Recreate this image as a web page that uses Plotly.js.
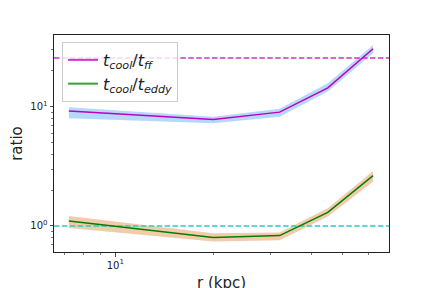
<!DOCTYPE html>
<html>
<head>
<meta charset="utf-8">
<script src="https://cdn.plot.ly/plotly-3.0.1.min.js"></script>
<style>html,body{margin:0;padding:0;background:#fff}#chart{width:432px;height:288px}</style>
</head>
<body>
<div id="chart"></div>
<script>
// radii (kpc)
const radius = [7.2, 20, 32, 45, 62];
// t_cool / t_ff : median and band
const ffMid   = [9.2, 7.8, 9.0, 14.4, 30.6];
const ffUpper = [9.9, 8.25, 9.6, 15.7, 32.9];
const ffLower = [8.0, 7.26, 8.25, 13.4, 28.0];
// t_cool / t_eddy : median and band
const edMid   = [1.10, 0.80, 0.83, 1.30, 2.64];
const edUpper = [1.21, 0.87, 0.88, 1.41, 2.89];
const edLower = [0.96, 0.74, 0.76, 1.20, 2.35];
// reference levels
const ffLevel = 25.6;
const edLevel = 1.0;
// tick labels
const yTickVals = [1, 10];
const yTickText = ['10<sup>0</sup>', '10<sup>1</sup>'];
const xTickVals = [10];
const xTickText = ['10<sup>1</sup>'];
const yMinor = [0.6, 0.7, 0.8, 0.9, 2, 3, 4, 5, 6, 7, 8, 9, 20, 30, 40];
const xMinor = [7, 8, 9, 20, 30, 40, 50, 60];

const xRange = [Math.log10(6.48), Math.log10(69.4)];
const yRange = [Math.log10(0.605), Math.log10(39.9)];

const traces = [
  {x: radius, y: ffLower, mode: 'lines', line: {width: 0}, showlegend: false, hoverinfo: 'skip'},
  {x: radius, y: ffUpper, mode: 'lines', line: {width: 0}, fill: 'tonexty', fillcolor: '#b5d9fb', showlegend: false, hoverinfo: 'skip'},
  {x: radius, y: edLower, mode: 'lines', line: {width: 0}, showlegend: false, hoverinfo: 'skip'},
  {x: radius, y: edUpper, mode: 'lines', line: {width: 0}, fill: 'tonexty', fillcolor: '#f2cbad', showlegend: false, hoverinfo: 'skip'},
  {x: [xRange[0], xRange[1]].map(v => Math.pow(10, v)), y: [ffLevel, ffLevel], mode: 'lines', line: {color: '#cc33cc', width: 1.5, dash: '5.5px,2.4px'}, showlegend: false},
  {x: [xRange[0], xRange[1]].map(v => Math.pow(10, v)), y: [edLevel, edLevel], mode: 'lines', line: {color: '#33c9c9', width: 1.5, dash: '5.5px,2.4px'}, showlegend: false},
  {x: radius, y: ffMid, mode: 'lines', line: {color: '#bf00bf', width: 1.5}, showlegend: false},
  {x: radius, y: edMid, mode: 'lines', line: {color: '#008000', width: 1.5}, showlegend: false},
  {x: [null], y: [null], mode: 'lines', line: {color: '#cc33cc', width: 2}, name: '<i>t</i><sub><i>cool</i></sub>/<i>t</i><sub><i>ff</i></sub>'},
  {x: [null], y: [null], mode: 'lines', line: {color: '#3a9f3a', width: 2}, name: '<i>t</i><sub><i>cool</i></sub>/<i>t</i><sub><i>eddy</i></sub>'}
];

const axisCommon = {
  type: 'log', showgrid: false, zeroline: false,
  showline: true, linecolor: '#222', linewidth: 1, mirror: true,
  ticks: 'outside', ticklen: 3.5, tickwidth: 0.8, tickcolor: '#222',
  tickmode: 'array', tickfont: {size: 10, color: '#222'}
};

const layout = {
  width: 432, height: 288,
  margin: {l: 54, r: 43, t: 35, b: 36},
  paper_bgcolor: '#fff', plot_bgcolor: '#fff',
  font: {family: 'DejaVu Sans', color: '#222'},
  xaxis: Object.assign({}, axisCommon, {
    range: xRange, tickvals: xTickVals, ticktext: xTickText,
    minor: {tickmode: 'array', tickvals: xMinor, ticks: 'outside', ticklen: 2, tickwidth: 0.6, tickcolor: '#222'}
  }),
  yaxis: Object.assign({}, axisCommon, {
    range: yRange, tickvals: yTickVals, ticktext: yTickText,
    minor: {tickmode: 'array', tickvals: yMinor, ticks: 'outside', ticklen: 2, tickwidth: 0.6, tickcolor: '#222'},
    title: {text: 'ratio', font: {size: 15, color: '#222'}, standoff: 4}
  }),
  annotations: [{
    text: 'r (kpc)', xref: 'paper', yref: 'paper', x: 0.5, y: -0.145,
    xanchor: 'center', yanchor: 'middle', showarrow: false,
    font: {size: 15, color: '#222'}
  }],
  legend: {
    x: 0.024, y: 0.968, xanchor: 'left', yanchor: 'top',
    traceorder: 'normal',
    bgcolor: 'rgba(255,255,255,0.8)', bordercolor: '#cccccc', borderwidth: 1,
    font: {size: 16, color: '#222'}, itemwidth: 30, tracegroupgap: 6
  },
  showlegend: true
};

Plotly.newPlot('chart', traces, layout, {staticPlot: true, displayModeBar: false});
</script>
</body>
</html>
